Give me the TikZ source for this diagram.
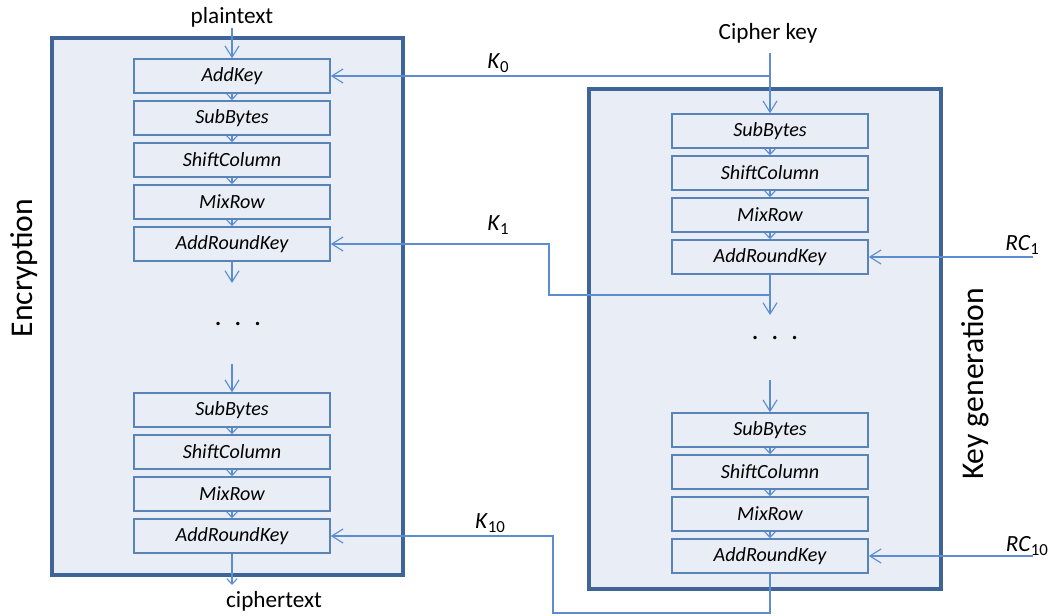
\documentclass[tikz,border=0pt]{standalone}
\usepackage{fontspec}
\setmainfont{Carlito}
\usetikzlibrary{arrows.meta}
\definecolor{boxfill}{HTML}{E9EEF6}
\definecolor{frameblue}{HTML}{3F6598}
\definecolor{stepline}{HTML}{5A84B8}
\definecolor{flowblue}{HTML}{5B8DD0}
\newcommand{\idx}[2]{\textit{#1}\raisebox{-0.35ex}{\fontsize{12}{12}\selectfont #2}}
\begin{document}
\begin{tikzpicture}[x=0.025cm, y=-0.025cm,
    frame/.style = {draw=frameblue, fill=boxfill, line width=2.2pt},
    stepbox/.style = {draw=stepline, fill=boxfill, line width=1.1pt, minimum width=4.9cm,
                      minimum height=0.85cm, inner sep=0pt, font=\fontsize{14.3}{16}\selectfont\itshape},
    arrow/.style = {flowblue, line width=0.8pt, -{Straight Barb[length=8pt,width=10pt]}},
    small/.style = {flowblue, line width=0.8pt, -{Straight Barb[length=4pt,width=7.5pt]}},
    lbl/.style = {font=\fontsize{16.5}{18}\selectfont}]
    \useasboundingbox (0,0) rectangle (1057,616);

    % frames
    \draw[frame] (52,38) rectangle (403,575);
    \draw[frame] (589,89) rectangle (941,589);
    \node[font=\fontsize{22.5}{24}\selectfont, rotate=90] (enc) at (24,268) {Encryption};
    \node[font=\fontsize{22.5}{24}\selectfont, rotate=90] (gen) at (975,384) {Key generation};

    % encryption rounds
    \node[stepbox] (ak)  at (232,76)  {AddKey};
    \node[stepbox] (sb1) at (232,118) {SubBytes};
    \node[stepbox] (sc1) at (232,160) {ShiftColumn};
    \node[stepbox] (mr1) at (232,202) {MixRow};
    \node[stepbox] (ar1) at (232,244) {AddRoundKey};
    \node[stepbox] (sbn) at (232,410) {SubBytes};
    \node[stepbox] (scn) at (232,452) {ShiftColumn};
    \node[stepbox] (mrn) at (232,494) {MixRow};
    \node[stepbox] (arn) at (232,536) {AddRoundKey};

    % key generation rounds
    \node[stepbox] (ksb1) at (770,131) {SubBytes};
    \node[stepbox] (ksc1) at (770,173) {ShiftColumn};
    \node[stepbox] (kmr1) at (770,215) {MixRow};
    \node[stepbox] (kar1) at (770,257) {AddRoundKey};
    \node[stepbox] (ksbn) at (770,430) {SubBytes};
    \node[stepbox] (kscn) at (770,472) {ShiftColumn};
    \node[stepbox] (kmrn) at (770,514) {MixRow};
    \node[stepbox] (karn) at (770,556) {AddRoundKey};

    % texts
    \node[lbl] (pt) at (232,17)  {plaintext};
    \node[lbl] (ct) at (274,601) {ciphertext};
    \node[lbl] (ck) at (768,33)  {Cipher key};
    \node[lbl] (k0)  at (498,63)  {\idx{K}{0}};
    \node[lbl] (k1)  at (498,225) {\idx{K}{1}};
    \node[lbl] (k10) at (490,523) {\idx{K}{10}};
    \node[lbl, anchor=east] (rc1)  at (1044,245) {\idx{RC}{1}};
    \node[lbl, anchor=east] (rc10) at (1053,546) {\idx{RC}{10}};
    \node[font=\fontsize{20}{20}\selectfont] (dl) at (238,324) {.\hspace{0.45em}.\hspace{0.45em}.};
    \node[font=\fontsize{20}{20}\selectfont] (dr) at (775,338) {.\hspace{0.45em}.\hspace{0.45em}.};

    \coordinate (pin)  at (232,28);
    \coordinate (cin)  at (770,53);
    \coordinate (kj0)  at (770,76);
    \coordinate (e1)   at (232,283);
    \coordinate (e2)   at (232,364);
    \coordinate (cout) at (232,585);
    \coordinate (g1)   at (770,315);
    \coordinate (kj1)  at (770,295);
    \coordinate (g2)   at (770,380);
    \coordinate (rin1) at (1033,257);
    \coordinate (rin10) at (1033,556);

    % encryption flow
    \draw[arrow] (pin) -- (ak.north);
    \draw[small] (ak) -- (sb1);
    \draw[small] (sb1) -- (sc1);
    \draw[small] (sc1) -- (mr1);
    \draw[small] (mr1) -- (ar1);
    \draw[arrow] (ar1.south) -- (e1);
    \draw[arrow] (e2) -- (sbn.north);
    \draw[small] (sbn) -- (scn);
    \draw[small] (scn) -- (mrn);
    \draw[small] (mrn) -- (arn);
    \draw[small] (arn.south) -- (cout);

    % key generation flow
    \draw[arrow] (cin) -- (ksb1.north);
    \draw[small] (ksb1) -- (ksc1);
    \draw[small] (ksc1) -- (kmr1);
    \draw[small] (kmr1) -- (kar1);
    \draw[arrow] (kar1.south) -- (g1);
    \draw[arrow] (g2) -- (ksbn.north);
    \draw[small] (ksbn) -- (kscn);
    \draw[small] (kscn) -- (kmrn);
    \draw[small] (kmrn) -- (karn);

    % round keys
    \draw[arrow] (kj0) -- (ak.east);
    \draw[arrow] (kj1) -- (549,295) -- (549,244) -- (ar1.east);
    \draw[arrow] (karn.south) -- (770,613) -- (553,613) -- (553,536) -- (arn.east);
    \draw[arrow] (rin1) -- (kar1.east);
    \draw[arrow] (rin10) -- (karn.east);
\end{tikzpicture}
\end{document}
